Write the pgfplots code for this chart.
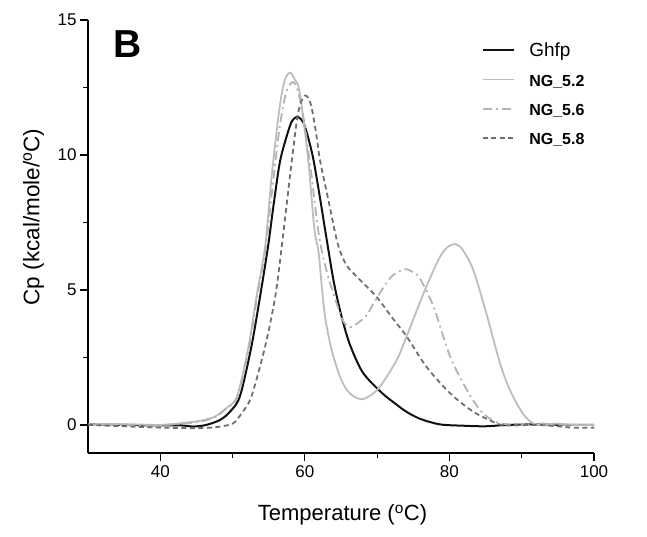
\documentclass[border=0pt]{standalone}
\usepackage{fontspec}
\setmainfont{Liberation Sans}
\usepackage{pgfplots}
\pgfplotsset{compat=1.18}
\definecolor{cBlack}{HTML}{111111}
\definecolor{cLight}{HTML}{BDBDBD}
\definecolor{cLightB}{HTML}{B3B3B3}
\definecolor{cDark}{HTML}{6F6F6F}
\begin{document}
\begin{tikzpicture}
\path[use as bounding box] (-88pt,-83pt) rectangle (559pt,453pt);
\begin{axis}[
  scale only axis, width=506pt, height=433pt,
  xmin=30, xmax=100, ymin=-1.04, ymax=15,
  axis x line*=bottom, axis y line*=left,
  axis line style={line width=1.2pt, black},
  xtick={40,60,80,100}, minor xtick={50,70,90},
  ytick={0,5,10,15}, minor ytick={2.5,7.5,12.5},
  tick align=outside,
  major tick length=8pt, minor tick length=5pt,
  tick style={line width=1.2pt, black},
  /pgf/number format/assume math mode=true,
  tick label style={font=\fontsize{17}{17}\selectfont},
  xticklabel style={yshift=-1.5pt},
  xlabel={Temperature (\textsuperscript{o}C)},
  ylabel={Cp (kcal/mole/\textsuperscript{o}C)},
  xlabel style={font=\fontsize{22}{22}\selectfont, at={(axis description cs:0.503,-0.157)}, anchor=base},
  ylabel style={font=\fontsize{22.5}{22.5}\selectfont, at={(axis description cs:-0.0962,0.545)}, anchor=base},
  clip=false,
  legend style={draw=none, fill=none, inner sep=0pt, at={(axis cs:84.45,14.12)}, anchor=north west,
    nodes={inner sep=0pt, text height=13pt, text depth=0pt}, row sep=16.1pt, column sep=14.5pt,
    cells={anchor=west}},
  legend image code/.code={\draw[#1] (0pt,0pt) -- (31pt,0pt);},
]
\addplot[cBlack, line width=2pt, smooth, tension=0.5] coordinates {
(30,0.02) (35,0.0) (40,-0.02) (43,-0.02) (44.5,-0.06) (46,-0.02) (47,0.05) (48.3,0.19) (49.5,0.45) (51.0,1.05) (52.6,2.9) (53.8,4.75) (54.9,6.6) (55.7,8.2) (56.6,9.81) (57.9,11.05) (58.5,11.35) (59.1,11.4) (59.8,11.2) (60.5,10.6) (61.2,9.81) (62.1,8.4) (63.0,6.9) (64.0,5.3) (65.0,4.1) (66.2,3.0) (68.0,1.95) (70.6,1.2) (72.7,0.75) (74.1,0.48) (76,0.22) (78.7,0.02) (82,-0.03) (85,-0.05) (88,0) (92,0.02) (96,0.0) (100,0.0)
};
\addlegendentry{\fontsize{19}{19}\selectfont Ghfp}
\addplot[cLight, line width=1.8pt, smooth, tension=0.5] coordinates {
(30,0.02) (35,0.03) (40,0.0) (42.7,0.06) (44,0.1) (45.5,0.15) (47.5,0.3) (49,0.6) (50.6,1.05) (52.2,2.9) (53.3,4.75) (54.5,6.6) (55.4,9.2) (56.46,11.67) (57.2,12.75) (57.94,13.05) (58.6,12.8) (59.3,12.3) (60.47,9.8) (61.3,7.3) (61.9,6.4) (62.3,5.25) (62.8,4.0) (63.7,2.78) (64.85,1.79) (65.8,1.3) (66.8,1.05) (67.85,0.95) (69,1.08) (70.4,1.42) (72.7,2.4) (74.1,3.3) (76.8,5.12) (78.7,6.23) (79.8,6.6) (80.8,6.7) (81.8,6.5) (83.3,5.74) (85.1,4.14) (87.0,2.28) (88.2,1.4) (89.3,0.8) (90.5,0.3) (91.6,0.06) (93,0.0) (95,0.05) (97,0.0) (100,0.0)
};
\addlegendentry{\fontsize{16}{16}\selectfont\bfseries NG\_5.2}
\addplot[cLightB, line width=1.8pt, dash pattern=on 9pt off 4pt on 2pt off 4pt, smooth, tension=0.5] coordinates {
(30,0.0) (40,0.0) (43,0.05) (45.5,0.12) (47.5,0.28) (49,0.58) (50.7,1.05) (52.3,2.9) (53.4,4.75) (54.6,6.6) (55.6,9.0) (56.5,11.0) (57.4,12.3) (58.3,12.7) (59.0,12.4) (59.8,11.4) (60.8,9.5) (61.9,7.1) (63.0,5.7) (64.4,4.5) (65.3,3.85) (66.2,3.62) (67.2,3.75) (68.5,4.05) (69.5,4.5) (71,5.15) (72.2,5.55) (73.8,5.77) (74.8,5.68) (75.9,5.43) (77.8,4.38) (80.1,2.53) (82.4,1.3) (84.2,0.56) (85.5,0.25) (87.0,0.06) (90,0.0) (93,0.05) (96,0.0) (100,0.0)
};
\addlegendentry{\fontsize{16}{16}\selectfont\bfseries NG\_5.6}
\addplot[cDark, line width=1.8pt, dash pattern=on 5pt off 3.5pt, smooth, tension=0.5] coordinates {
(30,0.0) (35,-0.05) (40,-0.1) (45,-0.12) (47,-0.1) (48.5,-0.05) (50.1,0.06) (51.3,0.45) (52.6,1.05) (54.5,2.9) (55.9,4.75) (56.8,6.6) (58.2,9.8) (59.1,11.6) (60.0,12.2) (60.8,11.9) (61.5,10.9) (62.1,9.8) (63.2,8.4) (64.2,7.1) (64.85,6.45) (65.8,5.9) (67.2,5.49) (69.9,4.75) (72,4.0) (74.1,3.27) (76.8,2.16) (80.1,1.17) (83.3,0.49) (86.5,0.06) (88,-0.02) (92,0.0) (95,-0.05) (97,-0.1) (100,-0.1)
};
\addlegendentry{\fontsize{16}{16}\selectfont\bfseries NG\_5.8}
\node[anchor=base west, inner sep=0pt, font=\fontsize{39}{39}\selectfont\bfseries] at (axis cs:33.5,13.6) {B};
\end{axis}
\end{tikzpicture}
\end{document}
